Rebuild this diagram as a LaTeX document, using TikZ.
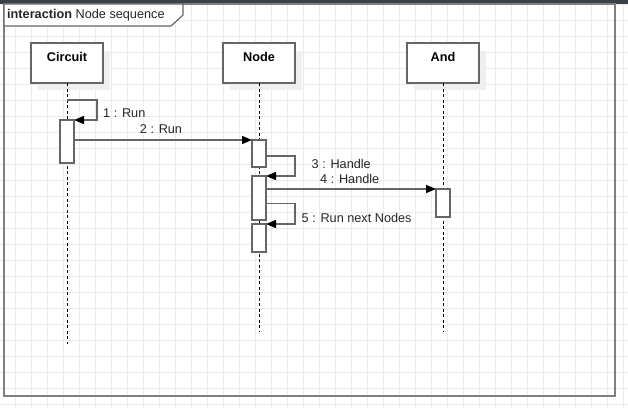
\documentclass[tikz,border=0pt]{standalone}
\usepackage{fontspec}
\setmainfont{Liberation Sans}
\usetikzlibrary{arrows.meta}
\definecolor{gridc}{HTML}{EBEBEB}
\definecolor{linec}{HTML}{666666}
\definecolor{framec}{HTML}{808080}
\definecolor{barc}{HTML}{3C4146}
\definecolor{shadowc}{HTML}{EFEFEF}
\tikzset{
  lbl/.style={font=\fontsize{12.7}{14}\selectfont, inner sep=0pt, text=black!85},
  headbox/.style={draw=linec, line width=1.4pt, fill=white, minimum width=72pt, minimum height=40pt, inner sep=0pt, outer sep=0pt},
  headtxt/.style={font=\bfseries\fontsize{12.7}{14}\selectfont, inner sep=0pt},
  actbox/.style={draw=linec, line width=1.4pt, fill=white, minimum width=14pt, inner sep=0pt, outer sep=0pt},
  lifeline/.style={draw=black, line width=0.9pt, dash pattern=on 3pt off 2.5pt},
  msg/.style={draw=linec, line width=1.4pt, -{Triangle[length=10pt,width=8pt,fill=black,color=black]}},
}
\begin{document}
\begin{tikzpicture}[x=1pt,y=-1pt]
\useasboundingbox (0,0) rectangle (628,408);
% grid
\foreach \gx in {-1,15,...,627} \draw[gridc, line width=0.8pt] (\gx,0) -- (\gx,408);
\foreach \gy in {4,20,...,404} \draw[gridc, line width=0.8pt] (0,\gy) -- (628,\gy);
% top bar
\fill[barc] (0,0) rectangle (628,4.3);
% frame
\draw[framec, line width=1.5pt] (4,4) rectangle (615,396);
\draw[linec, line width=1.2pt, fill=white] (4,4) -- (183,4) -- (183,15) -- (171,26) -- (4,26) -- cycle;
\node[lbl, anchor=west] (title) at (7,15.5) {\textbf{interaction} Node sequence};
% shadows
\fill[shadowc] (38,51) rectangle (110,90);
\fill[shadowc] (230,51) rectangle (302,90);
\fill[shadowc] (414,51) rectangle (486,90);
% lifeline heads
\node[headbox] (circuit) at (67,63) {};
\node[headtxt] (circuitT) at (67,56.5) {Circuit};
\node[headbox] (node) at (259,63) {};
\node[headtxt] (nodeT) at (259,56.5) {Node};
\node[headbox] (and) at (443,63) {};
\node[headtxt] (andT) at (443,56.5) {And};
% lifeline ends
\coordinate (cEnd) at (67,344);
\coordinate (nEnd) at (259,332);
\coordinate (aEnd) at (443,332);
\draw[lifeline] (circuit.south) -- (cEnd);
\draw[lifeline] (node.south) -- (nEnd);
\draw[lifeline] (and.south) -- (aEnd);
% activations
\node[actbox, minimum height=43pt, anchor=north] (actC) at (67,120) {};
\node[actbox, minimum height=27pt, anchor=north] (actN1) at (259,140) {};
\node[actbox, minimum height=44pt, anchor=north] (actN2) at (259,176) {};
\node[actbox, minimum height=28pt, anchor=north] (actN3) at (259,224) {};
\node[actbox, minimum height=28pt, anchor=north] (actA) at (443,189) {};
% messages
\coordinate (m1s) at (67,100);
\draw[msg] (m1s) -- (97,100) -- (97,120) -- (actC.north east);
\node[lbl, anchor=west] (l1) at (103,113) {1 : Run};
\draw[msg] (actC.east |- actN1.north) -- (actN1.north west);
\node[lbl] (l2) at (161,129.5) {2 : Run};
\draw[msg] (actN1.east |- 0,156) -- (295,156) -- (295,176) -- (actN2.north east);
\node[lbl, anchor=west] (l3) at (311.5,164) {3 : Handle};
\draw[msg] (actN2.east |- actA.north) -- (actA.north west);
\node[lbl, anchor=west] (l4) at (320,178.5) {4 : Handle};
\draw[msg] (actN2.east |- 0,203.5) -- (295,203.5) -- (295,224) -- (actN3.north east);
\node[lbl, anchor=west] (l5) at (301.5,217.5) {5 : Run next Nodes};
\end{tikzpicture}
\end{document}
